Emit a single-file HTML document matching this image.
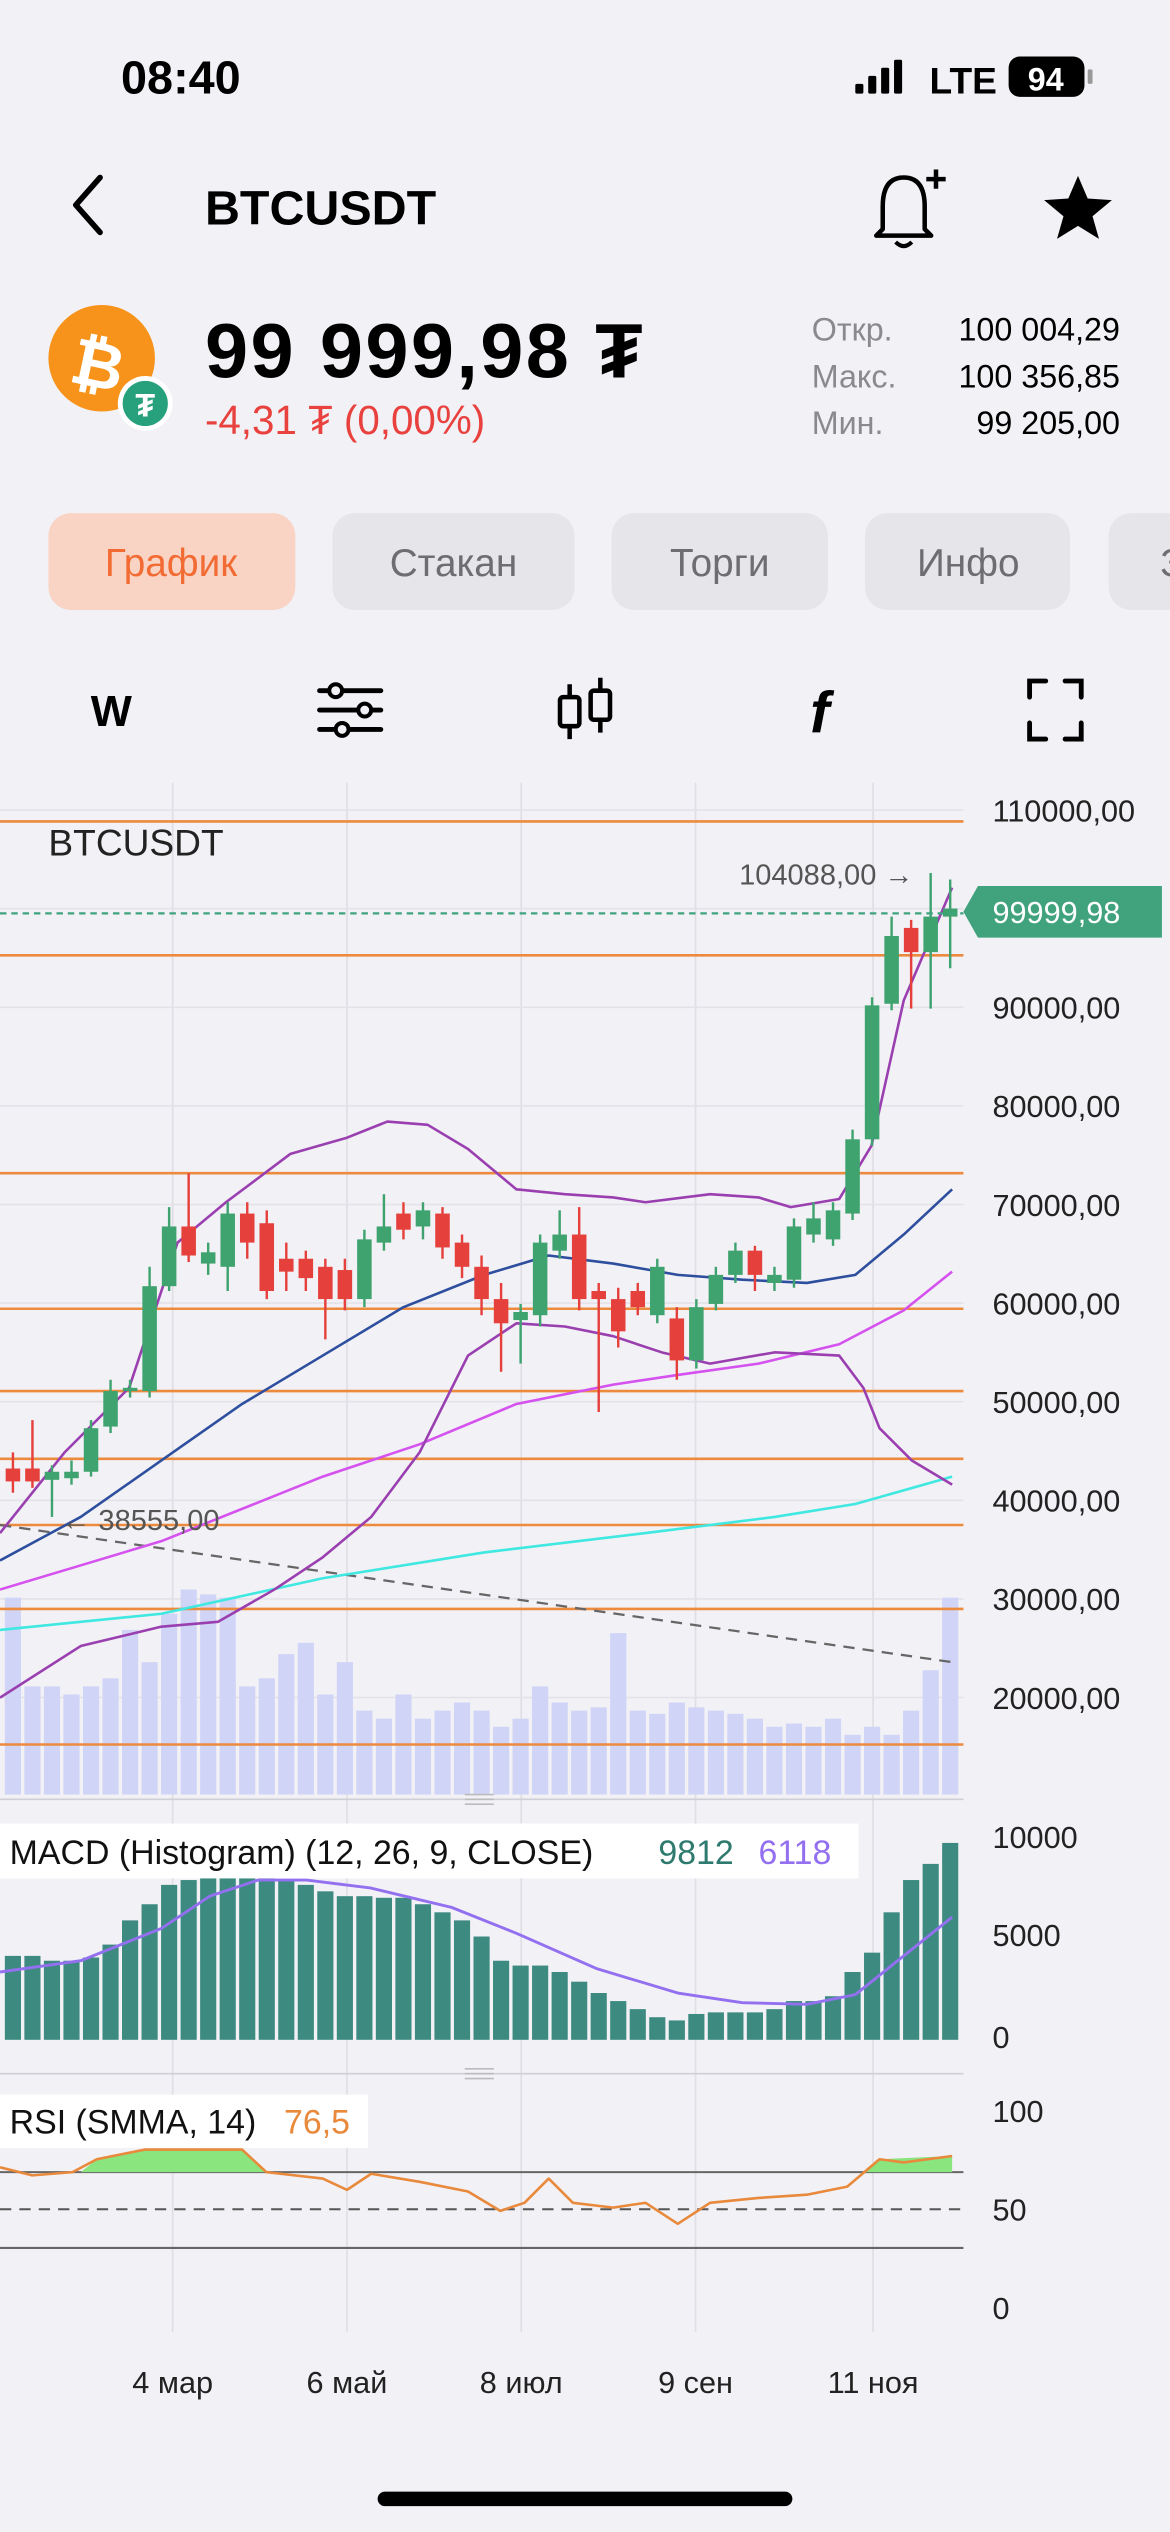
<!DOCTYPE html>
<html><head><meta charset="utf-8">
<style>
html,body{margin:0;padding:0;background:#f2f1f6;}
svg{display:block;}
text{font-family:"Liberation Sans","DejaVu Sans",sans-serif;}
</style></head>
<body>
<svg id="s" width="1170" height="2532" viewBox="0 0 725 1569" xmlns="http://www.w3.org/2000/svg">
<rect width="725" height="1569" fill="#f2f1f6"/>
<text x="75" y="58" font-size="29" font-weight="bold" fill="#000">08:40</text>
<rect x="530" y="52" width="5" height="6" rx="1" fill="#000"/>
<rect x="538" y="47" width="5" height="11" rx="1" fill="#000"/>
<rect x="546" y="42" width="5" height="16" rx="1" fill="#000"/>
<rect x="554" y="37" width="5" height="21" rx="1" fill="#000"/>
<text x="576" y="58" font-size="23" font-weight="bold" fill="#000">LTE</text>
<rect x="625" y="35" width="47" height="25" rx="7" fill="#000"/>
<text x="648" y="56" font-size="20" font-weight="bold" fill="#fff" text-anchor="middle">94</text>
<rect x="674" y="43" width="3" height="9" rx="1" fill="#999"/>
<path d="M62 110 L47 127 L62 144" stroke="#000" stroke-width="3.5" fill="none" stroke-linecap="round" stroke-linejoin="round"/>
<text x="127" y="139" font-size="30" font-weight="bold" fill="#000">BTCUSDT</text>
<path d="M547 142 L547 128 Q547 110 560 110 Q573 110 573 128 L573 142 L577 146 L543 146 Z" stroke="#000" stroke-width="2.8" fill="none" stroke-linejoin="round"/>
<path d="M555 150 Q560 155 565 150" stroke="#000" stroke-width="2.5" fill="none"/>
<path d="M574 111 h12 M580 105 v12" stroke="#000" stroke-width="2.8"/>
<path d="M668 109 L674 123 L689 124 L677 134 L681 148 L668 140 L655 148 L659 134 L647 124 L662 123 Z" fill="#000"/>
<circle cx="63" cy="222" r="33" fill="#f7931a"/>
<text x="61" y="240" font-size="40" font-weight="bold" fill="#fff" text-anchor="middle" transform="rotate(12 61 225)">₿</text>
<circle cx="90" cy="250" r="17" fill="#fff"/>
<circle cx="90" cy="250" r="14" fill="#26a17b"/>
<text x="90" y="258" font-size="20" font-weight="bold" fill="#fff" text-anchor="middle">₮</text>
<text x="127" y="234" font-size="48" font-weight="bold" fill="#000" letter-spacing="1.5">99 999,98 ₮</text>
<text x="127" y="269" font-size="25" fill="#e8413e">-4,31 ₮ (0,00%)</text>
<g font-size="20">
<text x="503" y="211" fill="#8a8a8e">Откр.</text><text x="694" y="211" text-anchor="end" fill="#000">100 004,29</text>
<text x="503" y="240" fill="#8a8a8e">Макс.</text><text x="694" y="240" text-anchor="end" fill="#000">100 356,85</text>
<text x="503" y="269" fill="#8a8a8e">Мин.</text><text x="694" y="269" text-anchor="end" fill="#000">99 205,00</text>
</g>
<rect x="30" y="318" width="153" height="60" rx="14" fill="#f9d4c4"/>
<text x="106" y="357" font-size="24" fill="#f26b33" text-anchor="middle">График</text>
<rect x="206" y="318" width="150" height="60" rx="14" fill="#e5e5ea"/>
<text x="281" y="357" font-size="24" fill="#6d6d72" text-anchor="middle">Стакан</text>
<rect x="379" y="318" width="134" height="60" rx="14" fill="#e5e5ea"/>
<text x="446" y="357" font-size="24" fill="#6d6d72" text-anchor="middle">Торги</text>
<rect x="536" y="318" width="127" height="60" rx="14" fill="#e5e5ea"/>
<text x="600" y="357" font-size="24" fill="#6d6d72" text-anchor="middle">Инфо</text>
<rect x="687" y="318" width="60" height="60" rx="14" fill="#e5e5ea"/>
<text x="719" y="357" font-size="24" fill="#6d6d72">З</text>
<text x="69" y="450" font-size="27" font-weight="bold" fill="#000" text-anchor="middle">W</text>
<g stroke="#000" stroke-width="3" stroke-linecap="round">
<path d="M198 428 h38 M198 440 h38 M198 452 h38"/>
</g>
<g fill="#f2f1f6" stroke="#000" stroke-width="2.5"><circle cx="208" cy="428" r="4"/><circle cx="226" cy="440" r="4"/><circle cx="212" cy="452" r="4"/></g>
<g stroke="#000" stroke-width="2.8" fill="none">
<path d="M353 424 v34 M372 420 v34"/>
<rect x="347" y="432" width="12" height="18" rx="2" fill="#f2f1f6"/>
<rect x="366" y="428" width="12" height="18" rx="2" fill="#f2f1f6"/>
</g>
<text x="508" y="454" font-size="36" font-style="italic" font-weight="bold" fill="#000" text-anchor="middle" font-family="Liberation Serif">f</text>
<path d="M638 432 v-10 h10 M660 422 h10 v10 M670 448 v10 h-10 M648 458 h-10 v-10" stroke="#000" stroke-width="3" fill="none" stroke-linecap="round"/>
<g id="chart"></g>
<rect x="234" y="1544" width="257" height="9" rx="4.5" fill="#000"/>
</svg>
<script>
const g=document.getElementById('chart');let h='';
const Y=p=>502+(110000-p)/10000*61.1;
[107,215,323,431,541].forEach(x=>h+=`<line x1="${x}" y1="485" x2="${x}" y2="1445" stroke="#dedee4" stroke-width="1"/>`);
for(let p=110000;p>=20000;p-=10000){const y=Y(p);h+=`<line x1="0" y1="${y}" x2="597" y2="${y}" stroke="#e2e2e8"/>`;h+=`<text x="615" y="${y+7}" font-size="19" fill="#222">${p},00</text>`;}
const vol=[990,1045,1045,1050,1045,1040,1010,1030,1000,985,988,990,1045,1040,1025,1018,1050,1030,1060,1065,1050,1065,1060,1055,1060,1070,1065,1045,1055,1060,1058,1012,1060,1062,1055,1058,1060,1062,1065,1070,1068,1070,1065,1075,1070,1075,1060,1035,990,1030,1050,1030,1062];
const n=49,x0=8,st=12.1;
for(let i=0;i<n;i++){const x=x0+i*st;const t=vol[i%vol.length];h+=`<rect x="${x-5}" y="${t}" width="10" height="${1112-t}" fill="#d0d4f6"/>`;}
[509,592,727,811,862,904,945,997,1081].forEach(y=>h+=`<line x1="0" y1="${y}" x2="597" y2="${y}" stroke="#ec8a3e" stroke-width="1.6"/>`);
h+=`<line x1="0" y1="945" x2="590" y2="1030" stroke="#666" stroke-width="1.4" stroke-dasharray="7,5"/>`;
const pl=(pts,c,w)=>`<polyline points="${pts}" fill="none" stroke="${c}" stroke-width="${w||1.6}" stroke-linejoin="round"/>`;
h+=pl("0,1010 100,1000 200,978 300,962 400,950 480,940 530,932 590,915","#3fe8e0");
h+=pl("0,985 100,955 200,915 260,895 320,870 380,858 420,852 470,845 520,833 560,812 590,788","#d552ef");
h+=pl("0,967 50,940 100,905 150,870 200,840 250,810 300,790 340,778 380,783 420,790 460,793 500,795 530,790 560,765 590,737","#2e4f9e");
h+=pl("0,950 40,900 80,860 110,770 140,745 180,715 215,705 240,695 265,697 290,712 320,737 350,740 380,742 400,745 440,740 470,742 490,748 520,743 540,710 560,620 590,550","#9a3fb0");
h+=pl("0,1052 50,1020 100,1008 135,1005 170,985 200,965 230,940 260,900 290,840 320,820 350,822 380,828 410,838 440,845 480,838 520,840 535,860 545,885 565,905 590,920","#9a3fb0");
const C=[[910,918,900,925],[910,918,880,922],[917,912,908,940],[916,912,905,920],[912,885,880,915],[884,862,855,888],[862,860,855,866],[862,797,785,866],[797,760,748,800],[760,778,727,782],[783,776,770,790],[785,752,745,800],[752,770,745,780],[758,800,750,805],[780,788,770,800],[780,792,775,800],[785,805,780,830],[787,805,780,812],[805,768,762,810],[770,760,740,775],[752,762,745,768],[760,750,745,768],[752,773,748,780],[770,785,765,792],[785,805,778,815],[805,820,795,850],[818,813,808,845],[815,770,765,822],[775,765,750,780],[765,805,748,812],[800,805,795,875],[805,825,798,835],[800,810,795,815],[815,785,780,820],[817,843,810,855],[843,810,805,848],[808,790,785,812],[790,775,770,795],[775,790,772,800],[795,790,785,800],[793,760,755,798],[765,755,745,770],[768,750,745,772],[752,706,700,756],[706,623,618,710],[622,580,568,626],[575,590,570,625],[590,568,541,625],[568,563,545,600]];
C.forEach((c,i)=>{const x=x0+i*st;const up=c[1]<=c[0];const col=up?'#3fa36f':'#e5403c';const t=Math.min(c[0],c[1]),b=Math.max(c[0],c[1]);
h+=`<line x1="${x}" y1="${c[2]}" x2="${x}" y2="${c[3]}" stroke="${col}" stroke-width="1.5"/><rect x="${x-4.5}" y="${t}" width="9" height="${Math.max(b-t,2)}" fill="${col}"/>`;});
h+=`<text x="30" y="530" font-size="23" fill="#222">BTCUSDT</text>`;
h+=`<text x="458" y="548" font-size="18" fill="#555">104088,00 →</text>`;
h+=`<text x="38" y="948" font-size="18" fill="#555">← 38555,00</text>`;
h+=`<line x1="0" y1="566" x2="597" y2="566" stroke="#3fa37d" stroke-width="1.4" stroke-dasharray="4,3"/>`;
h+=`<path d="M597 565 L606 549 H720 V581 H606 Z" fill="#41a27e"/><text x="615" y="572" font-size="19" fill="#fff">99999,98</text>`;
[1115,1285].forEach(y=>{h+=`<line x1="0" y1="${y}" x2="597" y2="${y}" stroke="#cfcfd6"/><path d="M288 ${y-3}h18M288 ${y}h18M288 ${y+3}h18" stroke="#bbb" stroke-width="1"/>`;});
const mt=[1212,1212,1215,1215,1213,1205,1190,1180,1168,1165,1163,1162,1163,1162,1165,1168,1172,1175,1175,1176,1176,1180,1185,1190,1200,1215,1218,1218,1222,1228,1235,1240,1245,1250,1252,1248,1247,1247,1247,1245,1240,1240,1237,1222,1210,1185,1165,1155,1142];
mt.forEach((t,i)=>{const x=x0+i*st;h+=`<rect x="${x-5}" y="${t}" width="10" height="${1264-t}" fill="#3d8a80"/>`;});
h+=pl("0,1222 50,1215 100,1195 130,1175 160,1165 190,1165 230,1170 280,1182 320,1198 370,1220 420,1235 460,1241 500,1242 530,1236 560,1212 590,1188","#9370f0",1.8);
h+=`<rect x="0" y="1130" width="532" height="34" fill="#fff"/><text x="6" y="1155" font-size="21" fill="#111">MACD (Histogram) (12, 26, 9, CLOSE)</text><text x="408" y="1155" font-size="21" fill="#2f7a6f">9812</text><text x="470" y="1155" font-size="21" fill="#9370f0">6118</text>`;
h+=`<text x="615" y="1145" font-size="19" fill="#222">10000</text><text x="615" y="1206" font-size="19" fill="#222">5000</text><text x="615" y="1269" font-size="19" fill="#222">0</text>`;
h+=`<line x1="0" y1="1346" x2="597" y2="1346" stroke="#666" stroke-width="1.3"/><line x1="0" y1="1369" x2="597" y2="1369" stroke="#555" stroke-width="1.3" stroke-dasharray="7,5"/><line x1="0" y1="1393" x2="597" y2="1393" stroke="#666" stroke-width="1.3"/>`;
h+=`<path d="M50 1346 L60 1338 L90 1332 L150 1332 L165 1346 Z M535 1346 L545 1338 L590 1336 L590 1346 Z" fill="#8ae57e"/>`;
h+=pl("0,1343 20,1348 45,1346 60,1338 90,1332 150,1332 165,1346 200,1350 215,1357 230,1347 260,1352 290,1358 310,1370 325,1365 340,1350 355,1365 380,1368 400,1365 420,1378 440,1365 470,1362 500,1360 525,1355 545,1338 560,1340 590,1336","#e8893c",1.6);
h+=`<rect x="0" y="1298" width="228" height="33" fill="#fff"/><text x="6" y="1322" font-size="21" fill="#111">RSI (SMMA, 14)</text><text x="176" y="1322" font-size="21" fill="#e8893c">76,5</text>`;
h+=`<text x="615" y="1315" font-size="19" fill="#222">100</text><text x="615" y="1376" font-size="19" fill="#222">50</text><text x="615" y="1437" font-size="19" fill="#222">0</text>`;
[[107,'4 мар'],[215,'6 май'],[323,'8 июл'],[431,'9 сен'],[541,'11 ноя']].forEach(a=>h+=`<text x="${a[0]}" y="1483" font-size="19" fill="#222" text-anchor="middle">${a[1]}</text>`);
g.innerHTML=h;
</script>
</body></html>
